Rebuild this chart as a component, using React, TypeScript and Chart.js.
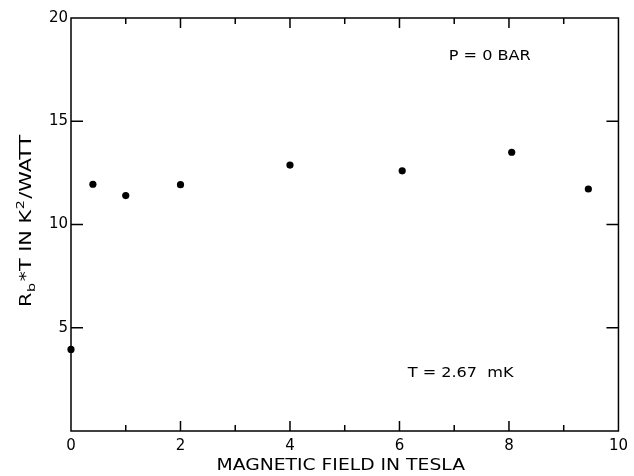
import { useEffect, useRef } from 'react';
import { Chart, registerables } from 'chart.js';

Chart.register(...registerables);

// ---- data ----
const fieldTesla = [0, 0.4, 1.0, 2.0, 4.0, 6.05, 8.05, 9.45];
const rbTimesT = [3.95, 11.95, 11.4, 11.93, 12.88, 12.6, 13.5, 11.72];
const xMajorTicks = [2, 4, 6, 8];
const xMinorTicks = [1, 3, 5, 7, 9];
const yMajorTicks = [5, 10, 15];
const xTitle = 'MAGNETIC FIELD IN TESLA';
const yTitleParts = [
  { t: 'R', k: 'n' },
  { t: 'b', k: 'sub' },
  { t: '*T IN K', k: 'n' },
  { t: '2', k: 'sup' },
  { t: '/WATT', k: 'n' },
];
const notes = [
  { text: 'P = 0 BAR', x: 6.9, y: 18.15 },
  { text: 'T = 2.67  mK', x: 6.15, y: 2.8 },
];

const FONT = '"DejaVu Sans", "Liberation Sans", sans-serif';

const framePlugin = {
  id: 'frameAndText',
  afterDraw(chart: any) {
    const { ctx, chartArea: a, scales } = chart;
    const xs = scales.x;
    const ys = scales.y;
    ctx.save();
    ctx.strokeStyle = '#000';
    ctx.lineWidth = 1.5;
    ctx.strokeRect(a.left, a.top, a.right - a.left, a.bottom - a.top);
    ctx.beginPath();
    const addX = (v: number, len: number) => {
      const px = xs.getPixelForValue(v);
      ctx.moveTo(px, a.bottom);
      ctx.lineTo(px, a.bottom - len);
      ctx.moveTo(px, a.top);
      ctx.lineTo(px, a.top + len);
    };
    xMajorTicks.forEach((v) => addX(v, 10));
    xMinorTicks.forEach((v) => addX(v, 6));
    yMajorTicks.forEach((v) => {
      const py = ys.getPixelForValue(v);
      ctx.moveTo(a.left, py);
      ctx.lineTo(a.left + 12, py);
      ctx.moveTo(a.right, py);
      ctx.lineTo(a.right - 12, py);
    });
    ctx.stroke();

    ctx.fillStyle = '#000';
    // annotations
    ctx.font = `14px ${FONT}`;
    ctx.textBaseline = 'middle';
    ctx.textAlign = 'left';
    notes.forEach((n) => {
      ctx.save();
      ctx.translate(xs.getPixelForValue(n.x), ys.getPixelForValue(n.y));
      ctx.scale(1.15, 1);
      ctx.fillText(n.text, 0, 0);
      ctx.restore();
    });

    // x title
    ctx.save();
    ctx.font = `15px ${FONT}`;
    ctx.textAlign = 'center';
    ctx.textBaseline = 'middle';
    ctx.translate((a.left + a.right) / 2 - 4, 466);
    ctx.scale(1.25, 1);
    ctx.fillText(xTitle, 0, 0);
    ctx.restore();

    // y title (rotated, with sub/superscript)
    ctx.save();
    ctx.translate(24.5, 307);
    ctx.rotate(-Math.PI / 2);
    ctx.scale(1.3, 1);
    ctx.textAlign = 'left';
    ctx.textBaseline = 'alphabetic';
    let cursor = 0;
    const base = 6;
    yTitleParts.forEach((p) => {
      if (p.k === 'n') {
        ctx.font = `16px ${FONT}`;
        ctx.fillText(p.t, cursor, base);
      } else if (p.k === 'sub') {
        ctx.font = `11px ${FONT}`;
        ctx.fillText(p.t, cursor + 0.5, base + 4);
      } else {
        ctx.font = `11px ${FONT}`;
        ctx.fillText(p.t, cursor + 0.5, base - 7);
      }
      cursor += ctx.measureText(p.t).width + (p.k === 'n' ? 0 : 1.5);
    });
    ctx.restore();
    ctx.restore();
  },
};

export default function App() {
  const ref = useRef<HTMLCanvasElement | null>(null);
  useEffect(() => {
    document.body.style.margin = '0';
    const chart = new Chart(ref.current as HTMLCanvasElement, {
      type: 'scatter',
      data: {
        datasets: [
          {
            data: fieldTesla.map((x, i) => ({ x, y: rbTimesT[i] })),
            backgroundColor: '#000',
            borderColor: '#000',
            borderWidth: 0,
            pointRadius: 3.6,
            clip: false as any,
          },
        ],
      },
      options: {
        animation: false,
        responsive: true,
        maintainAspectRatio: false,
        layout: { padding: { left: 0, right: 11, top: 18, bottom: 0 } },
        plugins: { legend: { display: false }, tooltip: { enabled: false } },
        scales: {
          x: {
            type: 'linear',
            min: 0,
            max: 10,
            ticks: {
              stepSize: 2,
              color: '#000',
              padding: 6,
              font: { family: FONT, size: 15 },
            },
            grid: { display: false, drawTicks: false },
            border: { display: false },
            afterFit: (s: any) => {
              s.height = 45;
            },
          },
          y: {
            type: 'linear',
            min: 0,
            max: 20,
            ticks: {
              stepSize: 5,
              color: '#000',
              padding: 3,
              font: { family: FONT, size: 15 },
              callback: (v: any) => (v === 0 ? '' : String(v)),
            },
            grid: { display: false, drawTicks: false },
            border: { display: false },
            afterFit: (s: any) => {
              s.width = 71;
            },
          },
        },
      },
      plugins: [framePlugin],
    });
    return () => chart.destroy();
  }, []);
  return (
    <div style={{ width: 634, height: 476, position: 'relative' }}>
      <canvas ref={ref} />
    </div>
  );
}
